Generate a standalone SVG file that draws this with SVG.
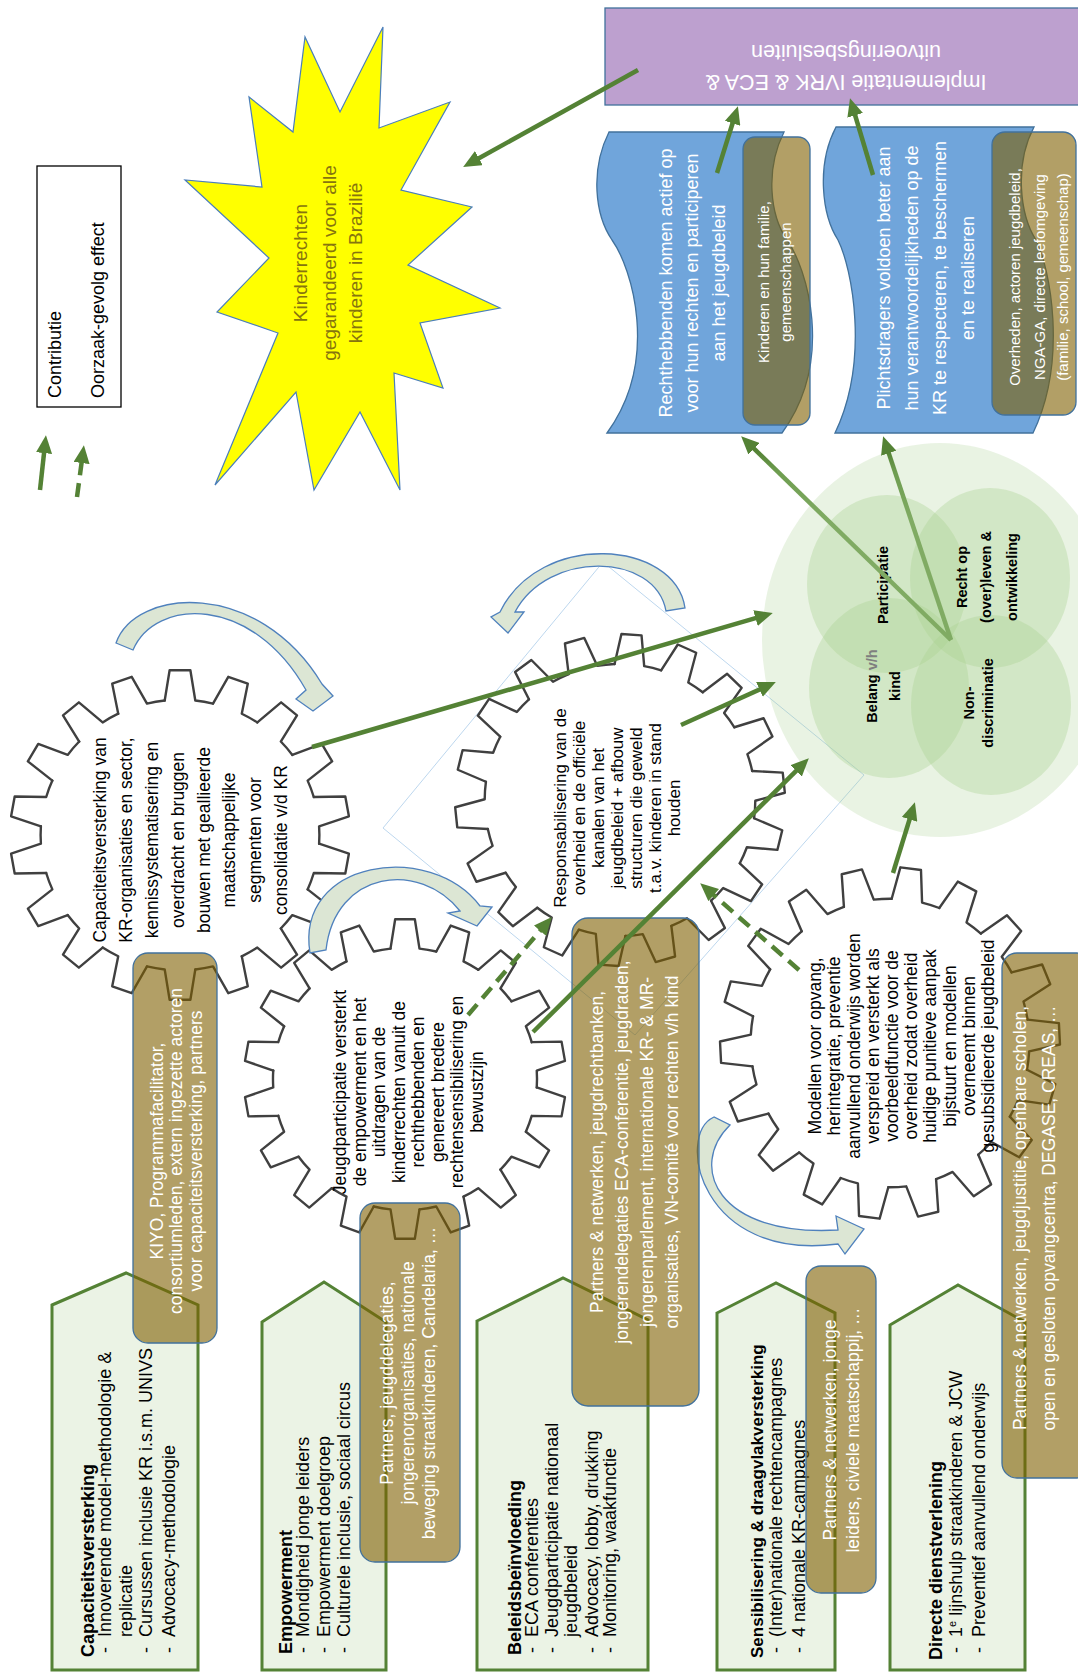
<svg xmlns="http://www.w3.org/2000/svg" xmlns:xlink="http://www.w3.org/1999/xlink" width="1078" height="1675" viewBox="0 0 1078 1675">
<style>
text{font-family:"Liberation Sans",Arial,sans-serif}
.w{fill:#fff}
.bb{fill:#7f5f00;fill-opacity:.6;stroke:#41719c;stroke-width:1.3}
.pg{fill:#ebf3e5;stroke:#548235;stroke-width:3}
.ca{fill:#dce6d4;stroke:#4f81bd;stroke-width:1.3}
.cn{stroke:#548235;stroke-width:4.5;fill:none;marker-end:url(#ah)}
.ds{stroke-dasharray:14 8}
.gl{fill:none;stroke:#404040;stroke-width:2.4;vector-effect:non-scaling-stroke;stroke-linejoin:round;stroke-linecap:round}
.blue{fill:#70a5db;stroke:#41719c;stroke-width:1.3}
.cs{fill:#a9d18e;fill-opacity:.35}
.gt{font-size:17.5px;fill:#000}
.bt{font-size:18px;fill:#fff}
.lt{font-size:17.5px;fill:#fff}
.pt{font-size:18px;fill:#000}
.h{font-weight:bold}
.vl{font-size:14.5px;font-weight:bold;fill:#000}
</style>
<defs>
<marker id="ah" viewBox="0 0 4 3.6" refX="1.6" refY="1.8" markerWidth="4" markerHeight="3.6" orient="auto" markerUnits="strokeWidth"><path d="M0,0 L4,1.8 L0,3.6 Z" fill="#548235"/></marker>
<linearGradient id="fadeG" gradientUnits="userSpaceOnUse" x1="0" y1="640" x2="0" y2="430">
<stop offset="0" stop-color="#80ab63"/><stop offset="0.57" stop-color="#80ab63"/><stop offset="0.8" stop-color="#6e9d50"/><stop offset="0.9" stop-color="#548235"/><stop offset="1" stop-color="#548235"/>
</linearGradient>
<path id="tooth" class="gl" d="M0.815,-0.09 L0.99813,-0.06105 L0.99813,0.06105 L0.815,0.09 A0.82,0.82 0 0 1 0.79667,0.19421"/>
<g id="gearU">
<use href="#tooth"/><use href="#tooth" transform="rotate(20)"/><use href="#tooth" transform="rotate(40)"/><use href="#tooth" transform="rotate(60)"/><use href="#tooth" transform="rotate(80)"/><use href="#tooth" transform="rotate(100)"/><use href="#tooth" transform="rotate(120)"/><use href="#tooth" transform="rotate(140)"/><use href="#tooth" transform="rotate(160)"/><use href="#tooth" transform="rotate(180)"/><use href="#tooth" transform="rotate(200)"/><use href="#tooth" transform="rotate(220)"/><use href="#tooth" transform="rotate(240)"/><use href="#tooth" transform="rotate(260)"/><use href="#tooth" transform="rotate(280)"/><use href="#tooth" transform="rotate(300)"/><use href="#tooth" transform="rotate(320)"/><use href="#tooth" transform="rotate(340)"/>
</g>
</defs>

<g id="legend">
<rect x="37" y="166" width="84" height="241" fill="#fff" stroke="#000" stroke-width="1.3"/>
<text transform="rotate(-90)" font-size="18" fill="#000"><tspan x="-398" y="61">Contributie</tspan><tspan x="-398" y="104">Oorzaak-gevolg effect</tspan></text>
<path class="cn" d="M40,490 L44.8,445.9"/>
<path class="cn ds" d="M77,497 L82.5,455.9"/>
</g>

<g id="kinderrechten">
<polygon points="383,27 379,128 450,102 401,190 472,207 408,265 500,308 420,323 443,388 394,373 400,490 360,412 314,490 296,392 215,485 278,333 217,312 269,258 185,180 262,187 249,97 293,132 305,37 340,112" fill="#ffff00" stroke="#4a7ebb" stroke-width="1.2"/>
<text transform="rotate(-90)" font-size="19" fill="#86740f" text-anchor="middle"><tspan x="-263" y="307">Kinderrechten</tspan><tspan x="-263" y="336">gegarandeerd voor alle</tspan><tspan x="-263" y="362">kinderen in Brazilië</tspan></text>
</g>

<g id="implementatie">
<rect x="605" y="8" width="480" height="97" fill="#bda0cf" stroke="#41719c" stroke-width="1.3"/>
<text transform="rotate(180)" font-size="21.5" class="w" text-anchor="middle"><tspan x="-846" y="-74.5">Implementatie IVRK &amp; ECA &amp;</tspan><tspan x="-846" y="-44.5">uitvoeringsbesluiten</tspan></text>
</g>

<g id="rechthebbenden">
<path class="blue" d="M609,132 L784,132 C765,170 770,215 787,240 C807,268 835,360 782,433 L607,433 C660,360 632,268 612,240 C595,215 590,170 609,132 Z"/>
<text transform="rotate(-90)" class="bt" text-anchor="middle"><tspan x="-283" y="672">Rechthebbenden komen actief op</tspan><tspan x="-283" y="698">voor hun rechten en participeren</tspan><tspan x="-283" y="725">aan het jeugdbeleid</tspan></text>
<rect class="bb" x="743" y="137" width="67" height="288" rx="12"/>
<text transform="rotate(-90)" font-size="15" class="w" text-anchor="middle"><tspan x="-282" y="769">Kinderen en hun familie,</tspan><tspan x="-282" y="791">gemeenschappen</tspan></text>
</g>

<g id="plichtsdragers">
<path class="blue" d="M836,127 L1034,127 C1014,165 1020,215 1036,240 C1050,268 1068,360 1033,433 L835,433 C870,360 852,268 838,240 C822,215 816,165 836,127 Z"/>
<text transform="rotate(-90)" class="bt" text-anchor="middle"><tspan x="-278" y="890">Plichtsdragers voldoen beter aan</tspan><tspan x="-278" y="918">hun verantwoordelijkheden op de</tspan><tspan x="-278" y="946">KR te respecteren, te beschermen</tspan><tspan x="-278" y="974">en te realiseren</tspan></text>
<rect class="bb" x="992" y="132" width="84" height="283" rx="13"/>
<text transform="rotate(-90)" font-size="15" class="w" text-anchor="middle"><tspan x="-277" y="1020">Overheden, actoren jeugdbeleid,</tspan><tspan x="-277" y="1045">NGA-GA, directe leefomgeving</tspan><tspan x="-277" y="1068">(familie, school, gemeenschap)</tspan></text>
</g>

<g id="kader">
<polygon points="603,562 864,775 635,1035 383,828" fill="none" stroke="#bdd7ee" stroke-width="1"/>
</g>

<g id="venn">
<ellipse cx="940" cy="640" rx="178" ry="197" fill="#a9d18e" fill-opacity=".25"/>
<ellipse class="cs" cx="887" cy="584" rx="80" ry="89"/>
<ellipse class="cs" cx="990" cy="578" rx="80" ry="90"/>
<ellipse class="cs" cx="889" cy="688" rx="80" ry="90"/>
<ellipse class="cs" cx="991" cy="705" rx="80" ry="90"/>
<text transform="rotate(-90)" class="vl" text-anchor="middle"><tspan x="-585" y="888">Participatie</tspan><tspan x="-577" y="967">Recht op</tspan><tspan x="-577" y="991">(over)leven &amp;</tspan><tspan x="-577" y="1017">ontwikkeling</tspan><tspan x="-686" y="877">Belang <tspan fill="#7f7f7f">v/h</tspan></tspan><tspan x="-686" y="900">kind</tspan><tspan x="-703" y="974">Non-</tspan><tspan x="-703" y="993">discriminatie</tspan></text>
</g>

<g id="gear-capaciteit">
<use href="#gearU" transform="translate(180,835) scale(170,165) rotate(10)"/>
<text transform="rotate(-90)" class="gt" text-anchor="middle"><tspan x="-840" y="106">Capaciteitsversterking van</tspan><tspan x="-840" y="132">KR-organisaties en sector,</tspan><tspan x="-840" y="158">kennissystematisering en</tspan><tspan x="-840" y="184">overdracht en bruggen</tspan><tspan x="-840" y="210">bouwen met geallieerde</tspan><tspan x="-840" y="235">maatschappelijke</tspan><tspan x="-840" y="261">segmenten voor</tspan><tspan x="-840" y="287">consolidatie v/d KR</tspan></text>
</g>

<g id="gear-responsabilisering">
<use href="#gearU" transform="translate(620,800) scale(165,166) rotate(14)"/>
<text transform="rotate(-90)" class="gt" text-anchor="middle" style="font-size:17px"><tspan x="-808" y="566">Responsabilisering van de</tspan><tspan x="-808" y="585">overheid en de officiële</tspan><tspan x="-808" y="604">kanalen van het</tspan><tspan x="-808" y="623">jeugdbeleid + afbouw</tspan><tspan x="-808" y="642">structuren die geweld</tspan><tspan x="-808" y="661">t.a.v. kinderen in stand</tspan><tspan x="-808" y="680">houden</tspan></text>
</g>

<g id="gear-jeugdparticipatie">
<use href="#gearU" transform="translate(405,1079) scale(161,160) rotate(10)"/>
<text transform="rotate(-90)" class="gt" text-anchor="middle"><tspan x="-1092" y="346">Jeugdparticipatie versterkt</tspan><tspan x="-1092" y="365.5">de empowerment en het</tspan><tspan x="-1092" y="385">uitdragen van de</tspan><tspan x="-1092" y="404.5">kinderrechten vanuit de</tspan><tspan x="-1092" y="424">rechthebbenden en</tspan><tspan x="-1092" y="443.5">genereert bredere</tspan><tspan x="-1092" y="463">rechtensensibilisering en</tspan><tspan x="-1092" y="482.5">bewustzijn</tspan></text>
</g>

<g id="gear-modellen">
<use href="#gearU" transform="translate(890,1043) scale(170,176) rotate(17)"/>
<text transform="rotate(-90)" class="gt" text-anchor="middle"><tspan x="-1046" y="821">Modellen voor opvang,</tspan><tspan x="-1046" y="840">herintegratie, preventie</tspan><tspan x="-1046" y="859.5">aanvullend onderwijs worden</tspan><tspan x="-1046" y="878.5">verspreid en versterkt als</tspan><tspan x="-1046" y="898">voorbeeldfunctie voor de</tspan><tspan x="-1046" y="917">overheid zodat overheid</tspan><tspan x="-1046" y="936">huidige punitieve aanpak</tspan><tspan x="-1046" y="955.5">bijstuurt en modellen</tspan><tspan x="-1046" y="974.5">overneemt binnen</tspan><tspan x="-1046" y="994">gesubsidieerde jeugdbeleid</tspan></text>
</g>

<g id="cyclus-pijlen">
<path class="ca" d="M116,643 C135,588 258,578 322,684 L333,696 L313,711 L296,699 L306,690 C252,594 155,598 133,650 Z"/>
<path class="ca" d="M685,608 C675,540 540,530 500,612 L491,617 L508,633 L524,612 L515,612 C548,550 655,552 666,611 Z"/>
<path class="ca" d="M310,953 C295,860 430,840 480,906 L492,907 L477,926 L448,913 L460,911 C420,860 335,870 326,950 Z"/>
<path class="ca" d="M714,1117 C675,1135 700,1262 838,1244 L845,1254 L864,1229 L836,1216 L838,1230 C716,1237 688,1166 730,1125 Z"/>
</g>

<g id="capaciteitsversterking">
<polygon class="pg" points="52,1305 126,1273 198,1305 198,1670 52,1670"/>
<text transform="rotate(-90)" class="pt"><tspan class="h" x="-1657" y="94">Capaciteitsversterking</tspan><tspan x="-1653" y="111">-</tspan><tspan x="-1637" y="111">Innoverende model-methodologie &amp;</tspan><tspan x="-1637" y="132">replicatie</tspan><tspan x="-1653" y="152">-</tspan><tspan x="-1637" y="152">Cursussen inclusie KR i.s.m. UNIVS</tspan><tspan x="-1653" y="175">-</tspan><tspan x="-1637" y="175">Advocacy-methodologie</tspan></text>
</g>

<g id="empowerment">
<polygon class="pg" points="262,1322 324,1282 386,1322 386,1670 262,1670"/>
<text transform="rotate(-90)" class="pt"><tspan class="h" x="-1654" y="292">Empowerment</tspan><tspan x="-1653" y="309">-</tspan><tspan x="-1637" y="309">Mondigheid jonge leiders</tspan><tspan x="-1653" y="329.5">-</tspan><tspan x="-1637" y="329.5">Empowerment doelgroep</tspan><tspan x="-1653" y="350">-</tspan><tspan x="-1637" y="350">Culturele inclusie, sociaal circus</tspan></text>
</g>

<g id="beleidsbeinvloeding">
<polygon class="pg" points="477,1321 563,1278 648,1320 648,1670 477,1670"/>
<text transform="rotate(-90)" class="pt"><tspan class="h" x="-1655" y="521">Beleidsbeïnvloeding</tspan><tspan x="-1653" y="538">-</tspan><tspan x="-1637" y="538">ECA conferenties</tspan><tspan x="-1653" y="558">-</tspan><tspan x="-1637" y="558">Jeugdparticipatie nationaal</tspan><tspan x="-1637" y="577">jeugdbeleid</tspan><tspan x="-1653" y="598">-</tspan><tspan x="-1637" y="598">Advocacy, lobby, drukking</tspan><tspan x="-1653" y="616">-</tspan><tspan x="-1637" y="616">Monitoring, waakfunctie</tspan></text>
</g>

<g id="sensibilisering">
<polygon class="pg" points="717,1313 776,1283 835,1313 835,1670 717,1670"/>
<text transform="rotate(-90)" class="pt"><tspan class="h" x="-1658" y="763" style="font-size:17px">Sensibilisering &amp; draagvlakversterking</tspan><tspan x="-1653" y="782">-</tspan><tspan x="-1637" y="782">(Inter)nationale rechtencampagnes</tspan><tspan x="-1653" y="805">-</tspan><tspan x="-1637" y="805">4 nationale KR-campagnes</tspan></text>
</g>

<g id="dienstverlening">
<polygon class="pg" points="890,1325 958,1285 1025,1322 1025,1670 890,1670"/>
<text transform="rotate(-90)" class="pt"><tspan class="h" x="-1660" y="942">Directe dienstverlening</tspan><tspan x="-1653" y="962">-</tspan><tspan x="-1637" y="962">1</tspan><tspan baseline-shift="super" style="font-size:11px">e</tspan><tspan> lijnshulp straatkinderen &amp; JCW</tspan><tspan x="-1653" y="985">-</tspan><tspan x="-1637" y="985">Preventief aanvullend onderwijs</tspan></text>
</g>

<g id="actoren-kiyo">
<rect class="bb" x="133" y="953" width="84" height="390" rx="15"/>
<text transform="rotate(-90)" class="lt" text-anchor="middle"><tspan x="-1151" y="163">KIYO, Programmafacilitator,</tspan><tspan x="-1151" y="182">consortiumleden, extern ingezette actoren</tspan><tspan x="-1151" y="202">voor capaciteitsversterking, partners</tspan></text>
</g>

<g id="actoren-jeugd">
<rect class="bb" x="360" y="1203" width="100" height="359" rx="15"/>
<text transform="rotate(-90)" class="lt" text-anchor="middle"><tspan x="-1383" y="393">Partners, jeugddelegaties,</tspan><tspan x="-1383" y="414">jongerenorganisaties, nationale</tspan><tspan x="-1383" y="435">beweging straatkinderen, Candelaria, …</tspan></text>
</g>

<g id="actoren-beleid">
<rect class="bb" x="572" y="918" width="127" height="488" rx="16"/>
<text transform="rotate(-90)" class="lt" text-anchor="middle"><tspan x="-1152" y="603">Partners &amp; netwerken, jeugdrechtbanken,</tspan><tspan x="-1152" y="628">jongerendelegaties ECA-conferentie, jeugdraden,</tspan><tspan x="-1152" y="653">jongerenparlement, internationale KR- &amp; MR-</tspan><tspan x="-1152" y="678">organisaties, VN-comité voor rechten v/h kind</tspan></text>
</g>

<g id="actoren-sensibilisering">
<rect class="bb" x="806" y="1266" width="70" height="327" rx="15"/>
<text transform="rotate(-90)" class="lt" text-anchor="middle"><tspan x="-1430" y="836">Partners &amp; netwerken, jonge</tspan><tspan x="-1430" y="859">leiders, civiele maatschappij, …</tspan></text>
</g>

<g id="actoren-dienst">
<rect class="bb" x="1002" y="953" width="90" height="525" rx="15"/>
<text transform="rotate(-90)" class="lt" text-anchor="middle"><tspan x="-1218" y="1026">Partners &amp; netwerken, jeugdjustitie, openbare scholen,</tspan><tspan x="-1218" y="1055">open en gesloten opvangcentra, DEGASE, CREAS, …</tspan></text>
</g>

<g id="connectors">
<path class="cn" d="M638,70 L472.6,161.7"/>
<path class="cn" d="M717,173 L734.7,116.5"/>
<path class="cn" d="M873,175 L853.1,108.5"/>
<path class="cn" style="stroke:url(#fadeG)" d="M951,640 L748.9,443.7"/>
<path class="cn" style="stroke:url(#fadeG)" d="M951,640 L886.5,446.4"/>
<path class="cn" d="M312,747 L762.4,616.1"/>
<path class="cn" d="M681,725 L766,686.5"/>
<path class="cn" d="M533,1032 L801.2,765.8"/>
<path class="cn" d="M893,873 L911.7,812.5"/>
<path class="cn ds" d="M799,970 L708.3,890.3"/>
<path class="cn ds" d="M468,1015 L544.8,925.3"/>
</g>
</svg>
